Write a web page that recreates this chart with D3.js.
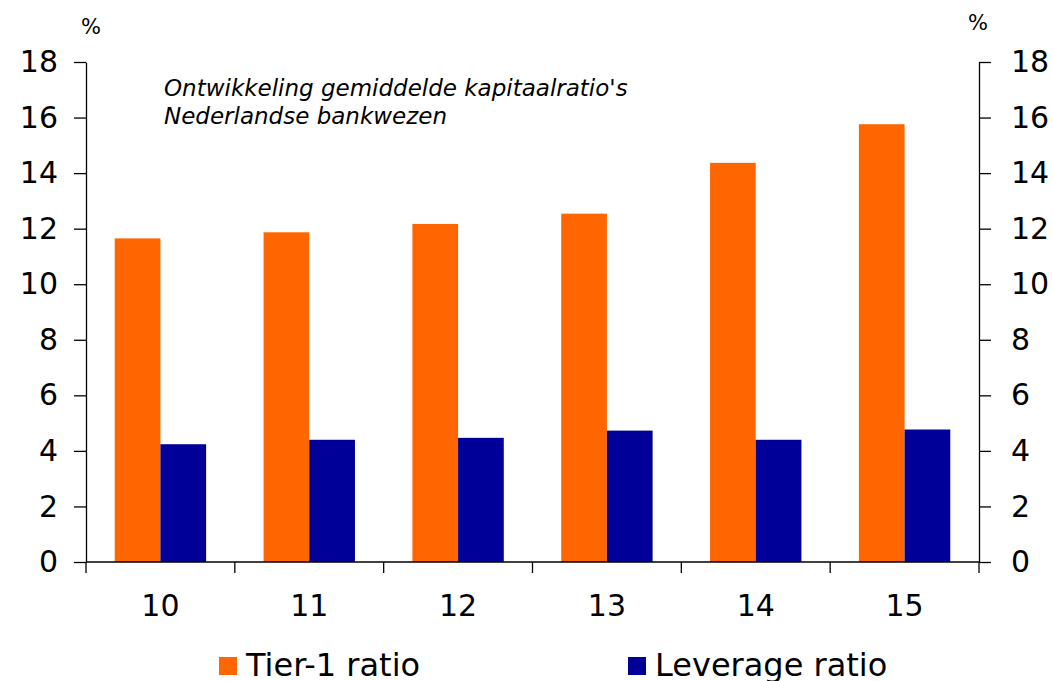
<!DOCTYPE html>
<html><head><meta charset="utf-8">
<script src="https://cdn.jsdelivr.net/npm/d3@7"></script>
<style>body{margin:0;background:#fff}svg{display:block}text{font-family:"DejaVu Sans",Verdana,sans-serif}</style>
</head><body>
<svg id="c" width="1053" height="681"></svg>
<script>
const categories = ["10","11","12","13","14","15"];
const tier1 = [11.65, 11.87, 12.17, 12.54, 14.37, 15.76];
const leverage = [4.24, 4.40, 4.47, 4.73, 4.40, 4.77];
const yTicks = [0,2,4,6,8,10,12,14,16,18];
const seriesNames = ["Tier-1 ratio","Leverage ratio"];
const colors = ["#FF6600","#000099"];

const svg = d3.select("#c");
const L = 86, R = 979, T = 62, B = 562;
const x = d3.scaleBand().domain(categories).range([L,R]).paddingInner(0.386).paddingOuter(0.193);
const xs = d3.scaleBand().domain([0,1]).range([0,x.bandwidth()]);
const y = d3.scaleLinear().domain([0,18]).range([B,T]);

const g = svg.append("g");
categories.forEach((c,i)=>{
  [tier1[i], leverage[i]].forEach((v,j)=>{
    g.append("rect").attr("x", x(c)+xs(j)).attr("width", xs.bandwidth())
      .attr("y", y(v)).attr("height", y(0)-y(v)).attr("fill", colors[j]);
  });
});

function styleAxis(sel){
  sel.selectAll("path,line").attr("stroke","#000").attr("stroke-width",1.3);
  sel.selectAll("text").attr("fill","#000").attr("font-size",30).attr("font-family","DejaVu Sans, Verdana, sans-serif");
}
const yl = svg.append("g").attr("transform",`translate(${L},0)`)
  .call(d3.axisLeft(y).tickValues(yTicks).tickSize(12).tickPadding(16).tickSizeOuter(0));
styleAxis(yl);
const yr = svg.append("g").attr("transform",`translate(${R},0)`)
  .call(d3.axisRight(y).tickValues(yTicks).tickSize(12).tickPadding(20).tickSizeOuter(0));
styleAxis(yr);

// x axis: line + ticks at category boundaries
const xa = svg.append("g");
xa.append("line").attr("x1",L).attr("x2",R).attr("y1",B).attr("y2",B).attr("stroke","#000").attr("stroke-width",1.3);
const step = x.step();
const bounds = categories.map(c=>x(c)-x.paddingInner()*step/2).concat([R]);
bounds.forEach(b=>{
  xa.append("line").attr("x1",b).attr("x2",b).attr("y1",B).attr("y2",B+11).attr("stroke","#000").attr("stroke-width",1.3);
});
categories.forEach(c=>{
  xa.append("text").attr("x", x(c)+x.bandwidth()/2).attr("y",616).attr("text-anchor","middle")
    .attr("font-size",30).text(c);
});

// % labels
svg.append("text").attr("x",91).attr("y",34).attr("text-anchor","middle").attr("font-size",21).text("%");
svg.append("text").attr("x",978).attr("y",30).attr("text-anchor","middle").attr("font-size",21).text("%");

// title
const tt = svg.append("text").attr("font-style","italic").attr("font-size",23);
tt.append("tspan").attr("x",164).attr("y",96).text("Ontwikkeling gemiddelde kapitaalratio's");
tt.append("tspan").attr("x",164).attr("y",124).text("Nederlandse bankwezen");

// legend
const legX = [219, 628];
seriesNames.forEach((n,i)=>{
  svg.append("rect").attr("x",legX[i]).attr("y",657).attr("width",18).attr("height",18).attr("fill",colors[i]);
  svg.append("text").attr("x",legX[i]+27).attr("y",676).attr("font-size",32).text(n);
});
</script>
</body></html>
